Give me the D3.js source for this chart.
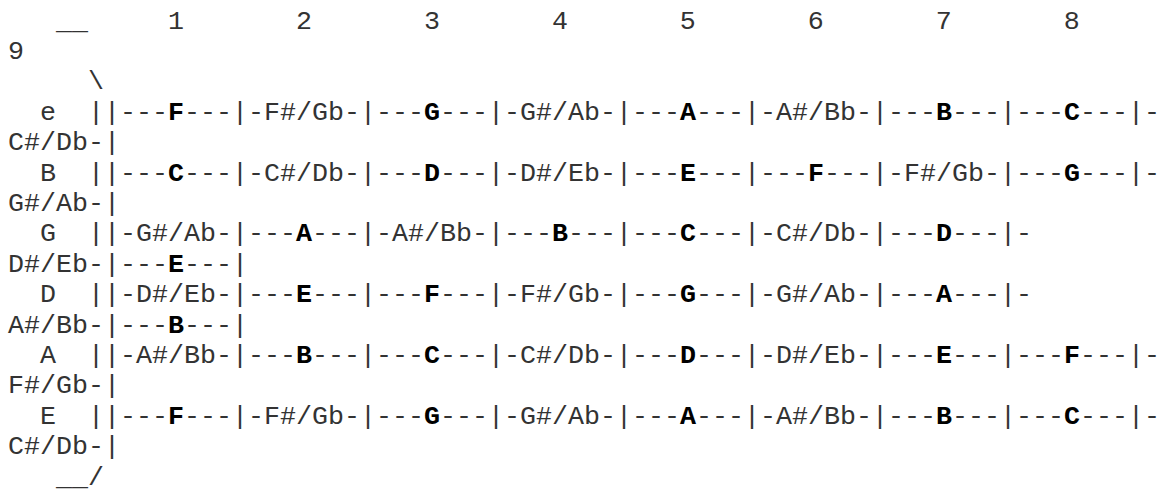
<!DOCTYPE html>
<html>
<head>
<meta charset="utf-8">
<script src="https://cdn.jsdelivr.net/npm/d3@7"></script>
<style>
  html, body { margin: 0; padding: 0; background: #fff; overflow: hidden; }
  #tab text {
    font-family: "Liberation Mono", "Courier New", monospace;
    font-size: 26.67px;
    fill: #333;
    white-space: pre;
  }
  #tab tspan.nat { font-weight: bold; fill: #000; }
</style>
</head>
<body>
<div id="tab"></div>
<script>
// fret numbers along the top
const fretNumbers = ["1", "2", "3", "4", "5", "6", "7", "8", "9"];

// open strings, high to low
const stringNames = ["e", "B", "G", "D", "A", "E"];

// notes on frets 1..9 for each string
const notesE_high = ["F", "F#/Gb", "G", "G#/Ab", "A", "A#/Bb", "B", "C", "C#/Db"];
const notesB = ["C", "C#/Db", "D", "D#/Eb", "E", "F", "F#/Gb", "G", "G#/Ab"];
const notesG = ["G#/Ab", "A", "A#/Bb", "B", "C", "C#/Db", "D", "D#/Eb", "E"];
const notesD = ["D#/Eb", "E", "F", "F#/Gb", "G", "G#/Ab", "A", "A#/Bb", "B"];
const notesA = ["A#/Bb", "B", "C", "C#/Db", "D", "D#/Eb", "E", "F", "F#/Gb"];
const notesE_low = ["F", "F#/Gb", "G", "G#/Ab", "A", "A#/Bb", "B", "C", "C#/Db"];

const stringNotes = [notesE_high, notesB, notesG, notesD, notesA, notesE_low];

const size = {
  width: 1164,
  height: 491,
  left: 8,
  charW: 16,
  maxCols: 72,
  firstBase: 28.5,
  lineH: 30.4
};

// a line is a list of {ch, bold}
const plain = (s) => Array.from(s).map((ch) => ({ ch, bold: false }));

const cell = function(note) {
  if (note.length === 1) {
    return plain("---").concat([{ ch: note, bold: true }], plain("---|"));
  }
  return plain("-" + note + "-|");
};

const buildLines = function() {
  const lines = [];

  // header: bracket top + fret numbers
  let head = plain("   __");
  fretNumbers.forEach((n, i) => {
    const col = 10 + 8 * i;
    while (head.length < col) head.push({ ch: " ", bold: false });
    head = head.concat(plain(n));
  });
  lines.push(head);
  lines.push(plain("     \\"));

  stringNames.forEach((name, i) => {
    let row = plain("  " + name + "  ||");
    stringNotes[i].forEach((n) => { row = row.concat(cell(n)); });
    lines.push(row);
  });

  lines.push(plain("   __/"));
  return lines;
};

// wrap like the browser did: break after "-" before a letter, or after spaces
const canBreak = function(chars, i) {
  const prev = chars[i - 1].ch, cur = chars[i].ch;
  if (prev === " " && cur !== " ") return true;
  if (prev === "-" && /[A-Za-z]/.test(cur)) return true;
  return false;
};

const trimEnd = function(chars) {
  let k = chars.length;
  while (k > 0 && chars[k - 1].ch === " ") k--;
  return chars.slice(0, k);
};

const wrap = function(chars, maxCols) {
  const out = [];
  let rest = chars;
  while (trimEnd(rest).length > maxCols) {
    let cut = -1;
    for (let i = rest.length - 1; i > 0; i--) {
      if (canBreak(rest, i) && trimEnd(rest.slice(0, i)).length <= maxCols) { cut = i; break; }
    }
    if (cut < 0) cut = maxCols;
    out.push(trimEnd(rest.slice(0, cut)));
    rest = rest.slice(cut);
  }
  out.push(rest);
  return out;
};

const runsOf = function(chars) {
  const runs = [];
  chars.forEach((c, col) => {
    const last = runs[runs.length - 1];
    if (last && last.bold === c.bold) last.text += c.ch;
    else runs.push({ col, bold: c.bold, text: c.ch });
  });
  return runs;
};

const drawTab = function(size) {
  const rows = [];
  buildLines().forEach((line) => {
    wrap(line, size.maxCols).forEach((r) => rows.push(r));
  });

  const x = d3.scaleLinear()
    .domain([0, size.maxCols])
    .range([size.left, size.left + size.maxCols * size.charW]);
  const y = d3.scaleLinear()
    .domain([0, 1])
    .range([size.firstBase, size.firstBase + size.lineH]);

  const svg = d3.select("#tab")
    .append("svg")
    .attr("width", size.width)
    .attr("height", size.height)
    .attr("viewBox", `0 0 ${size.width} ${size.height}`);

  const texts = svg.selectAll("text")
    .data(rows)
    .enter().append("text")
    .attr("xml:space", "preserve")
    .attr("y", (d, i) => y(i));

  texts.selectAll("tspan")
    .data((d) => runsOf(d))
    .enter().append("tspan")
    .classed("nat", (d) => d.bold)
    .attr("x", (d) => x(d.col))
    .text((d) => d.text);
};

window.onload = () => {
  drawTab(size);
};
</script>
</body>
</html>
